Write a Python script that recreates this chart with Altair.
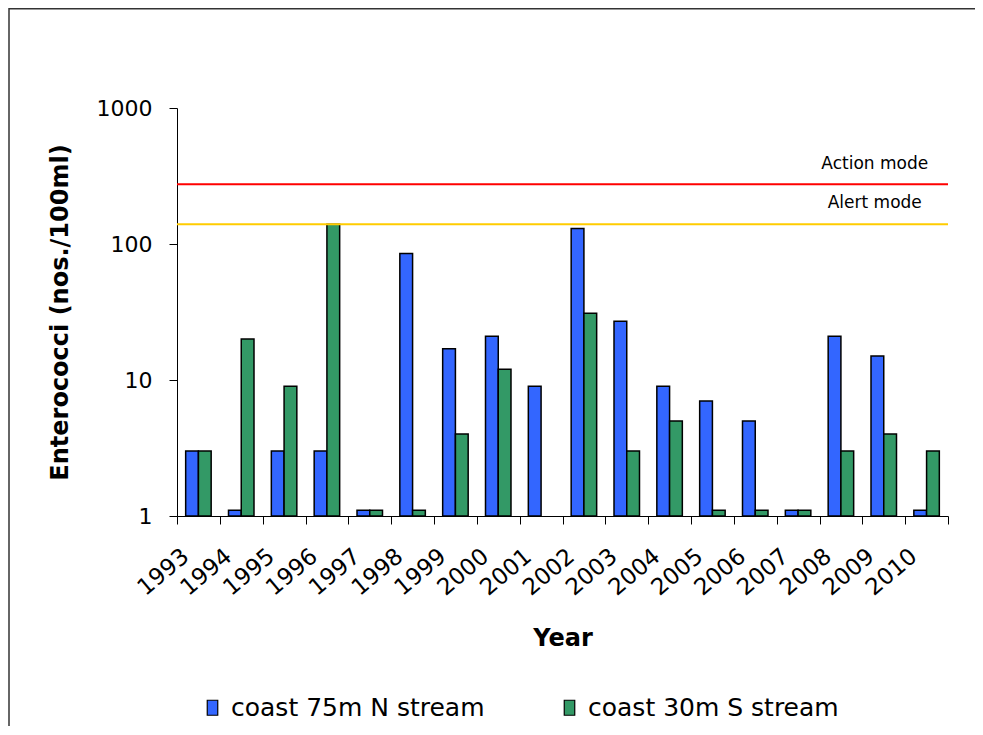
import altair as alt
import pandas as pd

years = [str(y) for y in range(1993, 2011)]
north = [3, 1.1, 3, 3, 1.1, 85, 17, 21, 9, 130, 27, 9, 7, 5, 1.1, 21, 15, 1.1]
south = [3, 20, 9, 140, 1.1, 1.1, 4, 12, None, 31, 3, 5, 1.1, 1.1, 1.1, 3, 4, 3]
series_names = ["coast 75m N stream", "coast 30m S stream"]
series_colors = ["#3366FF", "#339966"]
threshold_values = [275, 140]
threshold_labels = ["Action mode", "Alert mode"]
threshold_colors = ["#FF0000", "#FFCC00"]
y_ticks = [1, 10, 100, 1000]

rows = []
for yr, n, s in zip(years, north, south):
    rows.append({"year": yr, "series": series_names[0], "value": n, "base": 1})
    if s is not None:
        rows.append({"year": yr, "series": series_names[1], "value": s, "base": 1})
df = pd.DataFrame(rows)

FONT = "DejaVu Sans"

x_enc = alt.X(
    "year:N",
    sort=years,
    scale=alt.Scale(domain=years, paddingInner=0, paddingOuter=0),
    axis=alt.Axis(
        title="Year",
        tickBand="extent",
        labelAngle=-40,
        labelAlign="right",
        labelBaseline="middle",
        labelOffset=-13,
        labelPadding=29,
        labelFont=FONT,
        labelFontSize=23,
        labelColor="black",
        tickSize=8,
        tickColor="black",
        domainColor="black",
        titleFont=FONT,
        titleFontSize=24,
        titleFontWeight="bold",
        titleColor="black",
        titlePadding=27,
        grid=False,
    ),
)

y_enc = alt.Y(
    "value:Q",
    scale=alt.Scale(type="log", domain=[1, 1000]),
    axis=alt.Axis(
        title="Enterococci (nos./100ml)",
        values=y_ticks,
        format="d",
        grid=False,
        labelFont=FONT,
        labelFontSize=22,
        labelColor="black",
        labelPadding=17,
        tickSize=8,
        tickColor="black",
        domainColor="black",
        titleFont=FONT,
        titleFontSize=24,
        titleFontWeight="bold",
        titleColor="black",
        titlePadding=24,
    ),
)

bars = alt.Chart(df).mark_bar(stroke="black", strokeWidth=1.5).encode(
    x=x_enc,
    xOffset=alt.XOffset(
        "series:N",
        sort=series_names,
        scale=alt.Scale(domain=series_names, paddingInner=0, paddingOuter=0.68),
    ),
    y=y_enc,
    y2="base:Q",
    color=alt.Color(
        "series:N",
        sort=series_names,
        scale=alt.Scale(domain=series_names, range=series_colors),
        legend=alt.Legend(
            title=None,
            orient="none",
            direction="horizontal",
            legendX=23,
            legendY=587,
            padding=0,
            symbolType="M-0.7,-1H0.7V1H-0.7Z",
            symbolSize=225,
            symbolStrokeColor="black",
            symbolStrokeWidth=1.2,
            symbolOpacity=1,
            labelFont=FONT,
            labelFontSize=25,
            labelColor="black",
            labelLimit=0,
            labelOffset=6,
            columnPadding=72,
        ),
    ),
)

layers = [bars]
for val, lab, col, dy in zip(threshold_values, threshold_labels, threshold_colors, [-20, -21]):
    tdf = pd.DataFrame({"value": [val], "label": [lab], "year": ["2009"]})
    layers.append(
        alt.Chart(tdf).mark_rule(color=col, strokeWidth=2).encode(y=y_enc)
    )
    layers.append(
        alt.Chart(tdf)
        .mark_text(font=FONT, fontSize=17, color="black", align="center",
                   baseline="middle", dx=-9, dy=dy)
        .encode(x=x_enc, y=y_enc, text="label:N")
    )

# outer frame (top and left edges)
frame_df = pd.DataFrame({"k": [0]})
layers.append(
    alt.Chart(frame_df).mark_rule(color="#333333", strokeWidth=1.5).encode(
        x=alt.value(-168), x2=alt.value(800), y=alt.value(-99.2)
    )
)
layers.append(
    alt.Chart(frame_df).mark_rule(color="#333333", strokeWidth=1.5).encode(
        x=alt.value(-168), y=alt.value(-100), y2=alt.value(620)
    )
)

chart = alt.layer(*layers).properties(
    width=771,
    height=408,
    padding={"left": 169, "top": 100, "right": 27, "bottom": 210},
    autosize=alt.AutoSizeParams(type="none"),
    background="white",
).configure_view(strokeWidth=0, stroke=None)

chart.save("out.html", embed_options={"renderer": "svg", "actions": False})
